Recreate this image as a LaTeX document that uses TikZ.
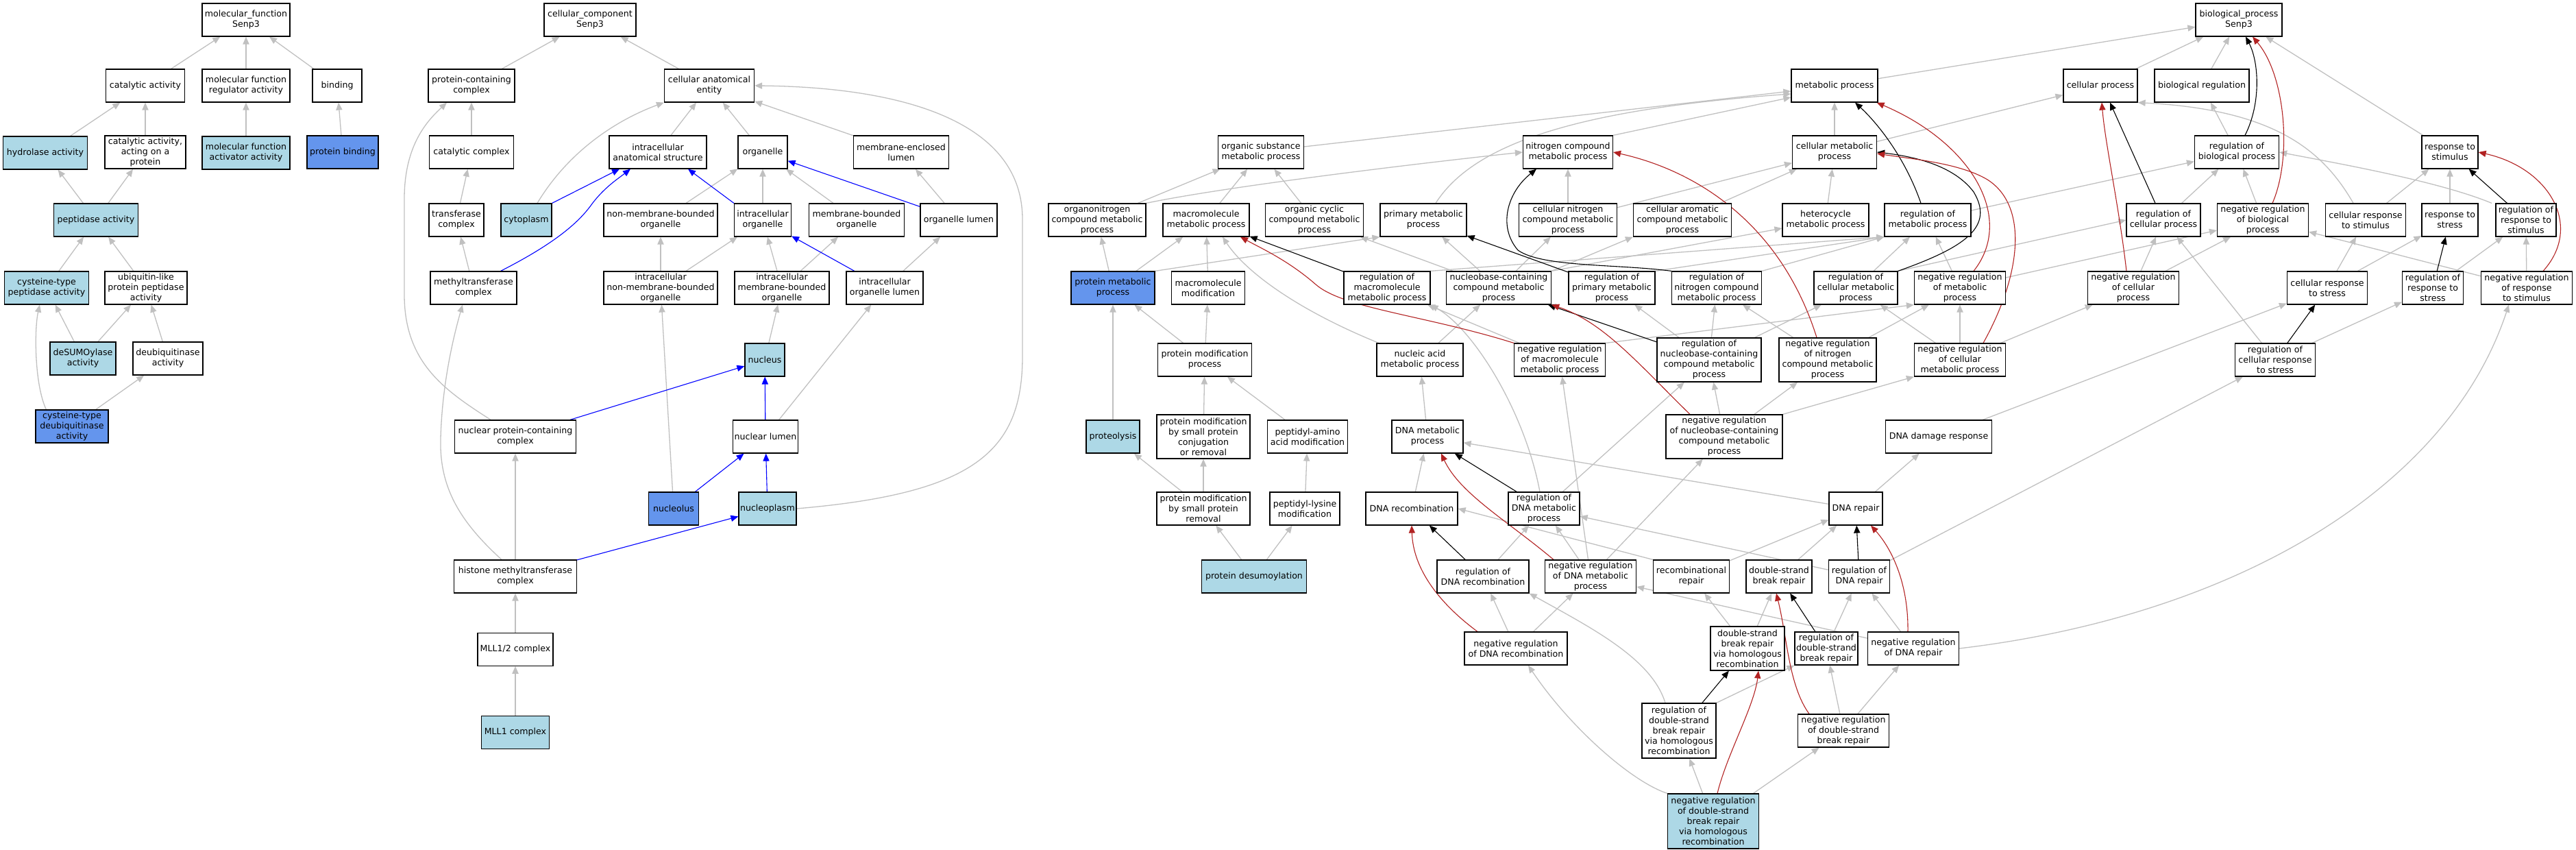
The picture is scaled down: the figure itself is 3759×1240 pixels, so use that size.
\documentclass[tikz,border=0pt]{standalone}
\usepackage{fontspec}
\setmainfont{DejaVu Sans}
\usetikzlibrary{arrows.meta, positioning, backgrounds}

\definecolor{isagray}{HTML}{C0C0C0}
\definecolor{partblue}{HTML}{0000FF}
\definecolor{negred}{HTML}{B22222}
\definecolor{seenblue}{HTML}{ADD8E6}
\definecolor{hitblue}{HTML}{6495ED}

\begin{document}
\begin{tikzpicture} [
    x=0.5pt, y=-0.5pt,
    term/.style={rectangle, draw=black, line width=0.6pt, fill=white, align=center,
        inner xsep=1pt, inner ysep=0pt, minimum height=24pt,
        font=\fontsize{6.3}{7.5}\selectfont},
    wd/.style={minimum width=#1*0.5pt},
    tall/.style={minimum height=32pt},
    taller/.style={minimum height=40pt},
    seen/.style={fill=seenblue},
    hit/.style={fill=hitblue},
    isa/.style={color=isagray, line width=0.65pt, -{Triangle[length=5.5pt, width=4.6pt]}},
    partof/.style={isa, color=partblue, line width=0.55pt},
    regs/.style={isa, color=black, line width=0.55pt},
    negregs/.style={isa, color=negred, line width=0.55pt}]

\useasboundingbox (0,0) rectangle (3759,1240);

% molecular function
\node (mfroot) [term, wd=128] at (359,29) {molecular\_function\\Senp3};
\node (catact) [term, wd=115] at (212,125) {catalytic activity};
\node (mfreg) [term, wd=128] at (359,125) {molecular function\\regulator activity};
\node (binding) [term, wd=72] at (492,125) {binding};
\node (hydro) [term, seen, wd=123] at (66,223) {hydrolase activity};
\node (catprot) [term, wd=118] at (212,222) {catalytic activity,\\acting on a\\protein};
\node (mfact) [term, seen, wd=128] at (359,223) {molecular function\\activator activity};
\node (protbind) [term, hit, wd=104] at (500,222) {protein binding};
\node (pept) [term, seen, wd=123] at (140,321) {peptidase activity};
\node (cyspept) [term, seen, wd=123] at (68,420) {cysteine-type\\peptidase activity};
\node (ublpept) [term, wd=120] at (213,420) {ubiquitin-like\\protein peptidase\\activity};
\node (desumo) [term, seen, wd=96] at (121,523) {deSUMOylase\\activity};
\node (deubiq) [term, wd=102] at (245,523) {deubiquitinase\\activity};
\node (cysdeub) [term, hit, wd=106] at (105,622) {cysteine-type\\deubiquitinase\\activity};

% cellular component
\node (ccroot) [term, wd=134] at (861,29) {cellular\_component\\Senp3};
\node (protcx) [term, wd=126] at (688,125) {protein-containing\\complex};
\node (cae) [term, wd=131] at (1035,125) {cellular anatomical\\entity};
\node (catcx) [term, wd=123] at (688,222) {catalytic complex};
\node (ias) [term, wd=142] at (960,222) {intracellular\\anatomical structure};
\node (organelle) [term, wd=72] at (1113,222) {organelle};
\node (mel) [term, wd=139] at (1315,222) {membrane-enclosed\\lumen};
\node (transcx) [term, wd=80] at (666,321) {transferase\\complex};
\node (cyto) [term, seen, wd=74] at (768,321) {cytoplasm};
\node (nmbo) [term, wd=166] at (964,321) {non-membrane-bounded\\organelle};
\node (io) [term, wd=83] at (1113,321) {intracellular\\organelle};
\node (mbo) [term, wd=139] at (1250,321) {membrane-bounded\\organelle};
\node (ol) [term, wd=112] at (1399,321) {organelle lumen};
\node (mtcx) [term, wd=126] at (691,420) {methyltransferase\\complex};
\node (inmbo) [term, wd=166] at (964,420) {intracellular\\non-membrane-bounded\\organelle};
\node (imbo) [term, wd=138] at (1141,420) {intracellular\\membrane-bounded\\organelle};
\node (iol) [term, wd=112] at (1291,420) {intracellular\\organelle lumen};
\node (nucleus) [term, seen, wd=58] at (1116,525) {nucleus};
\node (npcx) [term, wd=177] at (752,637) {nuclear protein-containing\\complex};
\node (nlumen) [term, wd=86] at (1117,637) {nuclear lumen};
\node (nucleolus) [term, hit, wd=73] at (983,742) {nucleolus};
\node (nucleoplasm) [term, seen, wd=82] at (1120,742) {nucleoplasm};
\node (hmtcx) [term, wd=179] at (752,841) {histone methyltransferase\\complex};
\node (mll12) [term, wd=110, below=28.5pt of hmtcx] {MLL1/2 complex};
\node (mll1) [term, seen, wd=99, below=36pt of mll12] {MLL1 complex};

% biological process
\node (bproot) [term, wd=126] at (3267,29) {biological\_process\\Senp3};
\node (metp) [term, wd=126] at (2677,125) {metabolic process};
\node (cellp) [term, wd=108] at (3065,125) {cellular process};
\node (bioreg) [term, wd=138] at (3213,125) {biological regulation};
\node (osmp) [term, wd=125] at (1840,222) {organic substance\\metabolic process};
\node (ncmp) [term, wd=131] at (2288,222) {nitrogen compound\\metabolic process};
\node (cmp) [term, wd=123] at (2677,222) {cellular metabolic\\process};
\node (rbp) [term, wd=123] at (3264,222) {regulation of\\biological process};
\node (rts) [term, wd=82] at (3575,222) {response to\\stimulus};
\node (onmp) [term, wd=142] at (1601,321) {organonitrogen\\compound metabolic\\process};
\node (mmp) [term, wd=126] at (1760,321) {macromolecule\\metabolic process};
\node (occmp) [term, wd=143] at (1918,321) {organic cyclic\\compound metabolic\\process};
\node (pmp) [term, wd=126] at (2077,321) {primary metabolic\\process};
\node (cncmp) [term, wd=143] at (2288,321) {cellular nitrogen\\compound metabolic\\process};
\node (camp) [term, wd=143] at (2455,321) {cellular aromatic\\compound metabolic\\process};
\node (hmp) [term, wd=126] at (2664,321) {heterocycle\\metabolic process};
\node (rmp) [term, wd=126] at (2813,321) {regulation of\\metabolic process};
\node (rcp) [term, wd=108] at (3157,321) {regulation of\\cellular process};
\node (nrbp) [term, wd=133] at (3302,321) {negative regulation\\of biological\\process};
\node (crts) [term, wd=117] at (3452,321) {cellular response\\to stimulus};
\node (rtstress) [term, wd=82] at (3575,321) {response to\\stress};
\node (rrts) [term, wd=88] at (3686,321) {regulation of\\response to\\stimulus};
\node (protmp) [term, hit, wd=122] at (1624,420) {protein metabolic\\process};
\node (mmod) [term, wd=107] at (1763,420) {macromolecule\\modification};
\node (rmmp) [term, wd=126] at (2024,420) {regulation of\\macromolecule\\metabolic process};
\node (nbcmp) [term, wd=153] at (2187,420) {nucleobase-containing\\compound metabolic\\process};
\node (rprmp) [term, wd=126] at (2352,420) {regulation of\\primary metabolic\\process};
\node (rncmp) [term, wd=131] at (2505,420) {regulation of\\nitrogen compound\\metabolic process};
\node (rcmp) [term, wd=122] at (2708,420) {regulation of\\cellular metabolic\\process};
\node (nrmp) [term, wd=133] at (2860,420) {negative regulation\\of metabolic\\process};
\node (nrcp) [term, wd=133] at (3113,420) {negative regulation\\of cellular\\process};
\node (crtstress) [term, wd=117] at (3396,420) {cellular response\\to stress};
\node (rrtstress) [term, wd=89] at (3550,420) {regulation of\\response to\\stress};
\node (nrrts) [term, wd=133] at (3687,420) {negative regulation\\of response\\to stimulus};
\node (protmod) [term, wd=137] at (1758,525) {protein modification\\process};
\node (namp) [term, wd=126] at (2072,525) {nucleic acid\\metabolic process};
\node (nrmmp) [term, wd=133] at (2276,525) {negative regulation\\of macromolecule\\metabolic process};
\node (rnbcmp) [term, tall, wd=152] at (2494,525) {regulation of\\nucleobase-containing\\compound metabolic\\process};
\node (nrncmp) [term, tall, wd=142] at (2667,525) {negative regulation\\of nitrogen\\compound metabolic\\process};
\node (nrcmp) [term, wd=133] at (2860,525) {negative regulation\\of cellular\\metabolic process};
\node (rcrtstress) [term, wd=117] at (3320,525) {regulation of\\cellular response\\to stress};
\node (proteolysis) [term, seen, wd=78] at (1624,637) {proteolysis};
\node (pmsp) [term, tall, wd=136] at (1756,637) {protein modification\\by small protein\\conjugation\\or removal};
\node (pamod) [term, wd=117] at (1908,637) {peptidyl-amino\\acid modification};
\node (dnamp) [term, wd=104] at (2083,637) {DNA metabolic\\process};
\node (nrnbcmp) [term, tall, wd=170] at (2516,637) {negative regulation\\of nucleobase-containing\\compound metabolic\\process};
\node (dnadr) [term, wd=155] at (2829,637) {DNA damage response};
\node (pmspr) [term, wd=136] at (1756,742) {protein modification\\by small protein\\removal};
\node (plmod) [term, wd=102] at (1904,742) {peptidyl-lysine\\modification};
\node (dnarec) [term, wd=134] at (2060,742) {DNA recombination};
\node (rdnamp) [term, wd=104] at (2253,742) {regulation of\\DNA metabolic\\process};
\node (dnarep) [term, wd=78] at (2708,742) {DNA repair};
\node (pdesumo) [term, seen, wd=153] at (1830,841) {protein desumoylation};
\node (rdnarec) [term, wd=134] at (2164,841) {regulation of\\DNA recombination};
\node (nrdnamp) [term, wd=133] at (2321,841) {negative regulation\\of DNA metabolic\\process};
\node (recrep) [term, wd=111] at (2468,841) {recombinational\\repair};
\node (dsbr) [term, wd=96] at (2596,841) {double-strand\\break repair};
\node (rdnarep) [term, wd=89] at (2713,841) {regulation of\\DNA repair};
\node (nrdnarec) [term, wd=150] at (2212,946) {negative regulation\\of DNA recombination};
\node (dsbrhr) [term, tall, wd=108] at (2550,946) {double-strand\\break repair\\via homologous\\recombination};
\node (rdsbr) [term, wd=92] at (2665,946) {regulation of\\double-strand\\break repair};
\node (nrdnarep) [term, wd=133] at (2792,946) {negative regulation\\of DNA repair};
\node (rdsbrhr) [term, taller, wd=108] at (2450,1066) {regulation of\\double-strand\\break repair\\via homologous\\recombination};
\node (nrdsbr) [term, wd=133] at (2690,1066) {negative regulation\\of double-strand\\break repair};
\node (nrdsbrhr) [term, seen, taller, wd=133] at (2500,1198) {negative regulation\\of double-strand\\break repair\\via homologous\\recombination};

\begin{scope}[on background layer]
% Arrows: is a
\path [isa]
    (catact) edge (mfroot)
    (mfreg) edge (mfroot)
    (binding) edge (mfroot)
    (hydro) edge (catact)
    (catprot) edge (catact)
    (mfact) edge (mfreg)
    (protbind) edge (binding)
    (pept) edge (hydro)
    (pept) edge (catprot)
    (cyspept) edge (pept)
    (ublpept) edge (pept)
    (desumo) edge (cyspept)
    (desumo) edge (ublpept)
    (deubiq) edge (ublpept)
    (cysdeub) edge (deubiq);
\draw [isa] ([xshift=8pt]cysdeub.north west) .. controls (50,560) and (50,480) .. ([xshift=-5pt]cyspept.south);

\path [isa]
    (protcx) edge (ccroot)
    (cae) edge (ccroot)
    (catcx) edge (protcx)
    (transcx) edge (catcx)
    (mtcx) edge (transcx)
    (hmtcx) edge (npcx)
    (mll12) edge (hmtcx)
    (mll1) edge (mll12)
    (ias) edge (cae)
    (organelle) edge (cae)
    (mel) edge (cae)
    (nmbo) edge (organelle)
    (io) edge (organelle)
    (mbo) edge (organelle)
    (inmbo) edge (nmbo)
    (inmbo) edge (io)
    (imbo) edge (io)
    (imbo) edge (mbo)
    (iol) edge (ol)
    (ol) edge (mel)
    (nucleus) edge (imbo)
    (nlumen) edge (iol)
    (nucleolus) edge (inmbo);
\draw [isa] ([xshift=-18pt]npcx.north) .. controls (650,570) and (590,530) .. (590,430)
    -- (590,290) .. controls (590,210) and (625,175) .. ([xshift=-18pt]protcx.south);
\draw [isa] ([xshift=-10pt]hmtcx.north) .. controls (670,760) and (641,710) .. (643,640)
    .. controls (645,560) and (662,490) .. ([xshift=-8pt]mtcx.south);
\draw [isa] ([xshift=8pt]cyto.north) .. controls (830,220) and (900,175) .. (cae.south west);
\draw [isa] (nucleoplasm.east) .. controls (1420,720) and (1492,660) .. (1492,520)
    -- (1492,320) .. controls (1492,170) and (1300,127) .. (cae.east);

% Arrows: part of
\path [partof]
    (cyto.north east) edge ([xshift=-28pt]ias.south)
    (io.north west) edge ([xshift=22pt]ias.south)
    (ol) edge (organelle)
    (iol) edge (io)
    (npcx) edge (nucleus)
    (nlumen) edge (nucleus)
    (nucleolus) edge (nlumen)
    (nucleoplasm) edge (nlumen)
    (hmtcx) edge (nucleoplasm);
\draw [partof] ([xshift=-12pt]mtcx.north east) .. controls (800,360) and (840,330) .. (862,300)
    .. controls (880,275) and (900,262) .. ([xshift=-20pt]ias.south);

\path [isa]
    (metp) edge (bproot)
    (cellp) edge (bproot)
    (bioreg) edge (bproot)
    (rts) edge (bproot)
    (rbp) edge (bioreg)
    (cmp) edge (metp)
    (cmp) edge (cellp)
    ([yshift=4pt]osmp.east) edge ([yshift=-4pt]metp.west)
    (ncmp.north east) edge ([yshift=-8.5pt]metp.west)
    (onmp) edge (osmp)
    (mmp) edge (osmp)
    (occmp) edge (osmp)
    (protmp) edge (onmp)
    (protmp) edge (mmp)
    (protmp.north east) edge (pmp.south west)
    (mmod) edge (mmp)
    (nbcmp) edge (occmp)
    (nbcmp) edge (pmp)
    (nbcmp) edge (cncmp)
    (nbcmp.north east) edge (camp.south west)
    (nbcmp.north east) edge ([yshift=-6pt]hmp.west)
    (cncmp) edge (ncmp)
    (cncmp) edge (cmp)
    (camp) edge (cmp)
    (hmp) edge (cmp)
    (rmp) edge (rbp)
    (rcp) edge (rbp)
    (nrbp) edge (rbp)
    (rcmp.north east) edge (rcp.west)
    (nrmp) edge (nrbp)
    (nrcp) edge (nrbp)
    (nrcp) edge (rcp)
    (nrcmp) edge (nrcp)
    (rcrtstress) edge (rcp)
    (crts) edge (rts)
    (rtstress) edge (rts)
    (crtstress) edge (crts)
    (crtstress) edge (rtstress)
    (rrtstress) edge (rrts)
    (rcrtstress) edge (rrtstress)
    (nrrts) edge (rrts)
    (nrrts) edge (nrbp)
    (rmmp.north east) edge (rmp.south west)
    (rprmp.north east) edge (rmp.south west)
    (rncmp.north east) edge (rmp.south west)
    (rcmp) edge (rmp)
    (nrmp) edge (rmp)
    (nrmmp) edge (rmmp)
    (nrmmp.north east) edge (nrmp.south west)
    (rnbcmp) edge (rprmp)
    (rnbcmp) edge (rncmp)
    (rnbcmp) edge (rcmp)
    (nrncmp) edge (rncmp)
    (nrncmp) edge (nrmp)
    (nrcmp) edge (rcmp)
    (nrcmp) edge (nrmp)
    (nrnbcmp) edge (rnbcmp)
    (nrnbcmp) edge (nrncmp)
    (nrnbcmp.north east) edge (nrcmp.south west)
    (proteolysis) edge (protmp)
    (protmod) edge (protmp)
    (protmod) edge (mmod)
    (pmsp) edge (protmod)
    (pamod) edge (protmod)
    (pmspr) edge (pmsp)
    (pmspr) edge (proteolysis)
    (plmod) edge (pamod)
    (pdesumo) edge (pmspr)
    (pdesumo) edge (plmod)
    (namp) edge (nbcmp)
    (dnamp) edge (namp)
    (dnarec) edge (dnamp)
    (dnarep) edge (dnamp)
    (dnarep) edge (dnadr)
    (dnadr) edge (crtstress)
    (rdnamp) edge (rnbcmp)
    (nrdnamp) edge (rdnamp)
    (nrdnamp) edge (nrmmp)
    (nrdnamp) edge (nrnbcmp)
    (rdnarec) edge (rdnamp)
    (nrdnarec) edge (rdnarec)
    (nrdnarec) edge (nrdnamp)
    (recrep.north west) edge (dnarec.east)
    (recrep) edge (dnarep)
    (dsbr) edge (dnarep)
    (rdnarep) edge (rdnamp)
    (rdnarep) edge (rcrtstress)
    (nrdnarep) edge (rdnarep)
    (nrdnarep) edge (nrdnamp)
    (dsbrhr) edge (recrep)
    (dsbrhr) edge (dsbr)
    (rdsbr) edge (rdnarep)
    (nrdsbr) edge (rdsbr)
    (nrdsbr) edge (nrdnarep)
    (rdsbrhr.north east) edge (rdsbr.south west)
    (nrdsbrhr) edge (rdsbrhr)
    (nrdsbrhr) edge (nrdsbr);
\draw [isa] ([xshift=9pt]pmp.north) .. controls (2150,210) and (2300,160) .. ([yshift=-6pt]metp.west);
\draw [isa] (onmp.north east) .. controls (1800,270) and (2100,235) .. (ncmp.west);
\draw [isa] ([xshift=-30pt]namp.north) .. controls (1900,455) and (1820,400) .. ([xshift=12pt]mmp.south);
\draw [isa] ([xshift=-9pt]crts.north) .. controls (3390,220) and (3320,160) .. (cellp.south east);
\draw [isa] ([xshift=-25pt]rrts.north) .. controls (3560,265) and (3420,240) .. (rbp.east);
\draw [isa] (nrdnarep.east) .. controls (3250,900) and (3570,720) .. ([xshift=-13pt]nrrts.south);
\draw [isa] ([xshift=-3pt]rdnamp.north) .. controls (2225,600) and (2150,480) .. (rmmp.south east);
\draw [isa] ([xshift=-10pt]rdsbrhr.north) .. controls (2410,960) and (2320,915) .. (rdnarec.south east);
\draw [isa] (nrdsbrhr.north west) .. controls (2380,1140) and (2290,1060) .. ([xshift=9pt]nrdnarec.south);

% Arrows: regulates
\path [regs]
    ([xshift=-6pt]rcp.north) edge ([xshift=7pt]cellp.south)
    (rrts) edge (rts)
    (rrtstress) edge (rtstress)
    (rcrtstress) edge (crtstress)
    (rprmp) edge (pmp)
    (rmmp) edge (mmp)
    (rnbcmp) edge (nbcmp)
    (rdnamp) edge (dnamp)
    (rdnarec) edge (dnarec)
    (rdnarep) edge (dnarep)
    (rdsbr) edge (dsbr)
    (rdsbrhr) edge (dsbrhr);
\draw [regs] ([xshift=6pt]rbp.north) .. controls (3300,150) and (3296,90) .. ([xshift=5pt]bproot.south);
\draw [regs] ([xshift=-5pt]rmp.north) .. controls (2780,230) and (2740,180) .. ([xshift=15pt]metp.south);
\draw [regs] (rcmp.north east) .. controls (2870,360) and (2910,330) .. (2880,280)
    .. controls (2850,240) and (2790,228) .. (cmp.east);
\draw [regs] (rncmp.north west) .. controls (2360,385) and (2250,390) .. (2215,365)
    .. controls (2185,330) and (2200,280) .. ([xshift=-23pt]ncmp.south);

% Arrows: negatively regulates
\draw [negregs] ([xshift=7pt]nrbp.north) .. controls (3345,230) and (3335,110) .. ([xshift=10pt]bproot.south);
\draw [negregs] ([xshift=-5pt]nrcp.north) .. controls (3092,300) and (3072,210) .. ([xshift=1pt]cellp.south);
\draw [negregs] ([xshift=12pt]nrrts.north) .. controls (3770,330) and (3720,245) .. (rts.east);
\draw [negregs] ([xshift=10pt]nrmp.north) .. controls (2940,320) and (2880,210) .. ([xshift=-1pt]metp.south east);
\draw [negregs] ([xshift=17pt]nrcmp.north) .. controls (2950,400) and (2960,300) .. (2900,262)
    .. controls (2860,238) and (2790,232) .. ([yshift=-1pt]cmp.east);
\draw [negregs] ([xshift=-8pt]nrncmp.north) .. controls (2600,330) and (2480,250) .. (ncmp.east);
\draw [negregs] (nrmmp.north west) .. controls (2080,460) and (1960,450) .. (1920,415)
    .. controls (1880,380) and (1840,362) .. ([xshift=25pt]mmp.south);
\draw [negregs] ([xshift=-25pt]nrnbcmp.north) .. controls (2390,530) and (2340,470) .. (nbcmp.south east);
\draw [negregs] ([xshift=-27pt]nrdnamp.north) .. controls (2200,760) and (2130,720) .. ([xshift=10pt]dnamp.south);
\draw [negregs] ([xshift=-28pt]nrdnarec.north) .. controls (2100,880) and (2062,830) .. (dnarec.south);
\draw [negregs] ([xshift=-4pt]nrdnarep.north) .. controls (2785,850) and (2760,800) .. ([xshift=11pt]dnarep.south);
\draw [negregs] ([xshift=-25pt]nrdsbr.north) .. controls (2610,1000) and (2608,930) .. ([xshift=-2pt]dsbr.south);
\draw [negregs] ([xshift=3pt]nrdsbrhr.north) .. controls (2520,1100) and (2560,1030) .. ([xshift=8pt]dsbrhr.south);
\end{scope}
\end{tikzpicture}
\end{document}
